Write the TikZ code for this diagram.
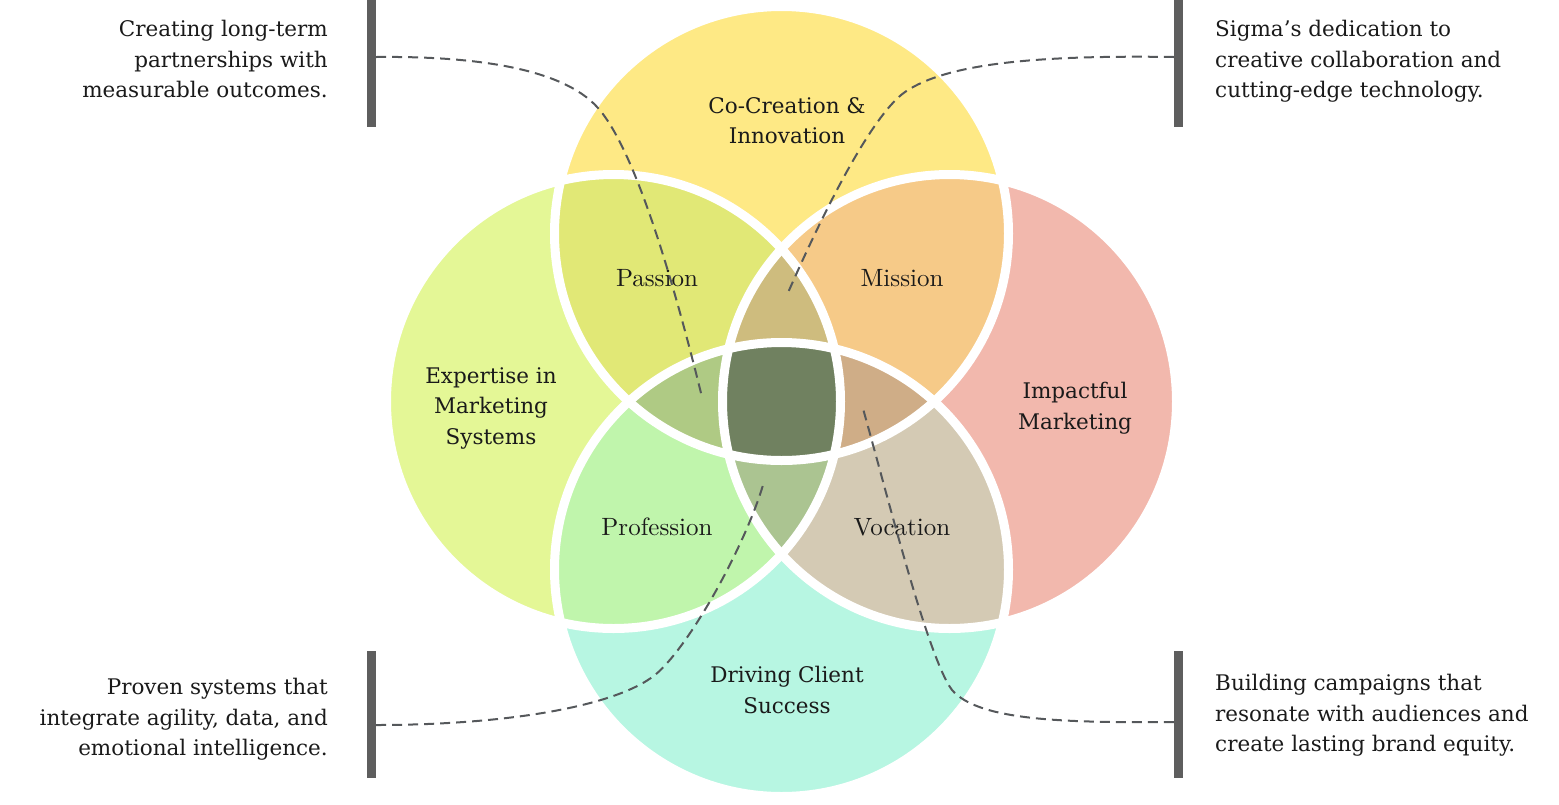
\documentclass[tikz,border=0pt]{standalone}
\usepackage{fontspec}
\newfontfamily\sidefont{DejaVu Serif}
\newfontfamily\petalfont{lmroman10-regular.otf}
\usepackage{xcolor}
\usepackage{tikz}
\usetikzlibrary{positioning}

\definecolor{ink}{HTML}{1A1A1A}
\definecolor{barcol}{HTML}{5E5E5E}
\definecolor{linkcol}{HTML}{55585B}
\definecolor{topfill}{HTML}{FEE985}
\definecolor{leftfill}{HTML}{E4F796}
\definecolor{rightfill}{HTML}{F2B8AD}
\definecolor{botfill}{HTML}{B7F6E2}
\definecolor{passionfill}{HTML}{E1E876}
\definecolor{missionfill}{HTML}{F6CA88}
\definecolor{professionfill}{HTML}{C0F5AC}
\definecolor{vocationfill}{HTML}{D4CAB4}
\definecolor{triup}{HTML}{CEBC7E}
\definecolor{trileft}{HTML}{AFCA84}
\definecolor{triright}{HTML}{CFAD87}
\definecolor{trilow}{HTML}{ABC491}
\definecolor{corefill}{HTML}{708160}

% the four circles
\newcommand{\circTop}{(781.5,233.5) circle (227pt)}
\newcommand{\circLeft}{(613.5,401.5) circle (227pt)}
\newcommand{\circRight}{(949.5,401.5) circle (227pt)}
\newcommand{\circBot}{(781.5,569.5) circle (227pt)}

\begin{document}
\begin{tikzpicture}[x=1pt, y=-1pt,
    ring/.style={draw=white, line width=9pt},
    bar/.style={fill=barcol, minimum width=9pt, minimum height=127pt, inner sep=0pt},
    note/.style={font=\sidefont\fontsize{21.5}{30.5}\selectfont, text=ink, inner sep=0pt},
    petal/.style={font=\petalfont\fontsize{25}{30}\selectfont, text=ink, inner sep=0pt},
    link/.style={draw=linkcol, line width=2pt, dash pattern=on 10pt off 6pt}
]
    \useasboundingbox (0,0) rectangle (1559,804);

    % single circles
    \fill[topfill] \circTop;
    \fill[leftfill] \circLeft;
    \fill[rightfill] \circRight;
    \fill[botfill] \circBot;
    % pairs
    \begin{scope}
        \clip \circTop;
        \fill[passionfill] \circLeft;
        \fill[missionfill] \circRight;
    \end{scope}
    \begin{scope}
        \clip \circBot;
        \fill[professionfill] \circLeft;
        \fill[vocationfill] \circRight;
    \end{scope}
    % triples
    \begin{scope}
        \clip \circLeft; \clip \circRight;
        \fill[triup] \circTop;
        \fill[trilow] \circBot;
    \end{scope}
    \begin{scope}
        \clip \circTop; \clip \circBot;
        \fill[trileft] \circLeft;
        \fill[triright] \circRight;
    \end{scope}
    % centre
    \begin{scope}
        \clip \circTop; \clip \circBot; \clip \circLeft;
        \fill[corefill] \circRight;
    \end{scope}
    \draw[ring] \circTop;
    \draw[ring] \circLeft;
    \draw[ring] \circRight;
    \draw[ring] \circBot;

    % circle labels
    \node[note, align=center, anchor=north] (cocreate) at (787,97) {Co-Creation \&\\Innovation};
    \node[note, align=center, anchor=north] (expertise) at (491,367) {Expertise in\\Marketing\\Systems};
    \node[note, align=center, anchor=north] (impact) at (1075,382) {Impactful\\Marketing};
    \node[note, align=center, anchor=north] (driving) at (787,666) {Driving Client\\Success};

    \node[petal, anchor=base] (passion) at (657,286) {Passion};
    \node[petal, anchor=base] (mission) at (902,286) {Mission};
    \node[petal, anchor=base] (profession) at (657,535) {Profession};
    \node[petal, anchor=base] (vocation) at (902,535) {Vocation};

    % side notes
    \node[bar] (barTL) at (371.5,63.5) {};
    \node[bar] (barTR) at (1178.5,63.5) {};
    \node[bar] (barBL) at (371.5,714) {};
    \node[bar] (barBR) at (1178.5,714) {};

    \node[note, align=right, anchor=north east] (noteTL) at (328,20) {Creating long-term\\partnerships with\\measurable outcomes.};
    \node[note, align=left, anchor=north west] (noteTR) at (1215,20) {Sigma’s dedication to\\creative collaboration and\\cutting-edge technology.};
    \node[note, align=right, anchor=north east] (noteBL) at (328,678) {Proven systems that\\integrate agility, data, and\\emotional intelligence.};
    \node[note, align=left, anchor=north west] (noteBR) at (1215,674) {Building campaigns that\\resonate with audiences and\\create lasting brand equity.};

    % dashed links
    \coordinate (tlFrom) at ([yshift=6.5pt]barTL.east);
    \coordinate (trFrom) at ([yshift=6.5pt]barTR.west);
    \coordinate (blFrom) at ([yshift=-11pt]barBL.east);
    \coordinate (brFrom) at ([yshift=-8pt]barBR.west);
    \coordinate (tlTo) at (702,397);
    \coordinate (trTo) at (787,295);
    \coordinate (blTo) at (763,485);
    \coordinate (brTo) at (862,405);

    \draw[link] (tlFrom) .. controls (470,56) and (562,67) .. (598,108)
        .. controls (638,153) and (678,300) .. (tlTo);
    \draw[link] (trFrom) .. controls (1040,55) and (947,63) .. (905,92)
        .. controls (868,118) and (815,231) .. (trTo);
    \draw[link] (blFrom) .. controls (500,725) and (613,708) .. (655,675)
        .. controls (691,645) and (746,543) .. (blTo);
    \draw[link] (brFrom) .. controls (1060,723) and (978,720) .. (952,690)
        .. controls (928,658) and (889,501) .. (brTo);
\end{tikzpicture}
\end{document}
